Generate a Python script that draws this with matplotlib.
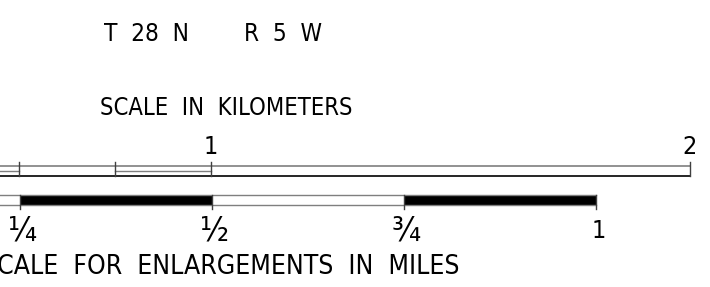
import matplotlib
matplotlib.use("Agg")
import matplotlib.pyplot as plt

# kilometre bar
km_edges = [0.4, 0.6, 0.8, 1.0, 2.0]
km_double = [True, False, True, False]  # segment drawn with a centre line
km_ticks = [0.6, 0.8, 1.0, 2.0]
km_labels = {1.0: "1", 2.0: "2"}

# mile bar
mi_edges = [0.0, 0.25, 0.5, 0.75, 1.0]
mi_black = [False, True, False, True]
mi_ticks = [0.25, 0.5, 0.75, 1.0]
mi_labels = ["\u00bc", "\u00bd", "\u00be", "1"]

title_top = "T  28  N        R  5  W"
title_km = "SCALE  IN  KILOMETERS"
title_mi = "SCALE  FOR  ENLARGEMENTS  IN  MILES"

W, H = 710, 287
fp = dict(family="DejaVu Sans", fontstretch="condensed")
fs = 18

fig = plt.figure(figsize=(W / 100, H / 100), dpi=100)
fig.patch.set_facecolor("white")

ax_km = fig.add_axes([0, 0, 1, 1])
ax_mi = fig.add_axes([0, 0, 1, 1])
for ax in (ax_km, ax_mi):
    ax.set_ylim(H, 0)
    ax.axis("off")
    ax.patch.set_alpha(0)
# pixel x = 211 + 479*(km-1)  /  pixel x = -172 + 768*mi
ax_km.set_xlim(1 - 211 / 479, 1 + (W - 211) / 479)
ax_mi.set_xlim(172 / 768, (W + 172) / 768)

grey = "#7f7f7f"

# km bar
ax_km.plot([km_edges[0], km_edges[-1]], [165.5, 165.5], color=grey, lw=1.2)
ax_km.plot([km_edges[0], km_edges[-1]], [175.5, 175.5], color="black", lw=1.2)
for i, dbl in enumerate(km_double):
    if dbl:
        ax_km.plot([km_edges[i], km_edges[i + 1]], [170.5, 170.5], color=grey, lw=1.0)
for t in km_ticks:
    ax_km.plot([t, t], [162, 175.5], color="#404040", lw=1.0)
for k, lab in km_labels.items():
    ax_km.text(k, 147, lab, ha="center", va="center", fontsize=fs, **fp)

# mile bar
for i, blk in enumerate(mi_black):
    x0, x1 = mi_edges[i], mi_edges[i + 1]
    ax_mi.fill_between([x0, x1], 195.5, 204.5, color="black" if blk else "white", lw=0)
ax_mi.plot([mi_edges[0], mi_edges[-1]], [195, 195], color=grey, lw=1.0)
ax_mi.plot([mi_edges[0], mi_edges[-1]], [205, 205], color=grey, lw=1.0)
for t, lab in zip(mi_ticks, mi_labels):
    ax_mi.plot([t, t], [195, 209], color="#404040", lw=1.0)
    ax_mi.text(t + 0.003, 231, lab, ha="center", va="center",
               fontsize=fs if lab == "1" else fs + 6, **fp)

# titles
ax_km.text(213.5 / W, 1 - 34 / H, title_top, ha="center", va="center",
           fontsize=17.5, transform=ax_km.transAxes, **fp)
ax_km.text(226 / W, 1 - 108 / H, title_km, ha="center", va="center",
           fontsize=17, transform=ax_km.transAxes, **fp)
ax_km.text(221 / W, 1 - 267 / H, title_mi, ha="center", va="center",
           fontsize=fs + 1, transform=ax_km.transAxes, **fp)

fig.savefig("out.png", dpi=100, facecolor="white")
